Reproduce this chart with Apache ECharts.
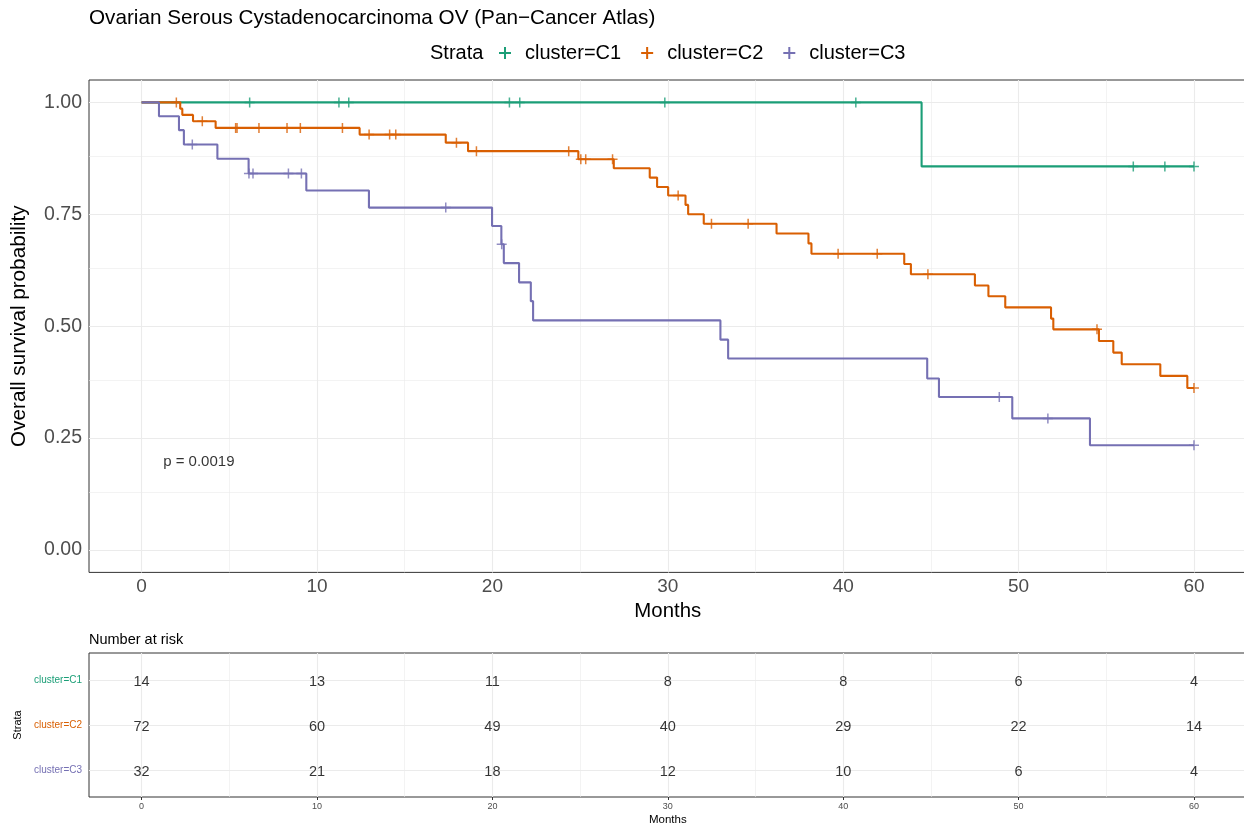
<!DOCTYPE html>
<html>
<head>
<meta charset="utf-8">
<script src="https://cdn.jsdelivr.net/npm/echarts@6/dist/echarts.min.js"></script>
<style>
  html, body { margin: 0; padding: 0; background: #ffffff; }
  #chart { width: 1244px; height: 832px; }
</style>
</head>
<body>
<div id="chart"></div>
<script>
// ---- Kaplan-Meier step data (months, survival probability) ----
const strata = ['cluster=C1', 'cluster=C2', 'cluster=C3'];
const strataColors = ['#1B9E77', '#D95F02', '#7570B3'];

const c1Times = [0, 44.47, 60];
const c1Surv  = [1, 0.857, 0.857];
const c1Censor = [6.16, 11.25, 11.81, 20.97, 21.56, 29.83, 40.72, 56.54, 58.34, 60];

const c2Times = [0, 2.2, 2.32, 2.93, 4.22, 12.43, 17.34, 18.61, 24.9, 26.92, 28.97, 29.39, 30.02,
                 31.01, 31.16, 32.05, 36.2, 38.02, 38.19, 43.48, 43.86, 47.51, 48.28, 49.24,
                 51.85, 51.98, 54.58, 55.4, 55.88, 58.08, 59.62, 60];
const c2Surv  = [1, 0.986, 0.972, 0.958, 0.943, 0.928, 0.910, 0.891, 0.873, 0.853, 0.832, 0.811, 0.792,
                 0.771, 0.750, 0.729, 0.707, 0.685, 0.662, 0.639, 0.616, 0.591, 0.567, 0.542,
                 0.517, 0.493, 0.467, 0.441, 0.415, 0.389, 0.362, 0.362];
const c2Censor = [1.98, 3.46, 5.36, 5.44, 6.69, 8.29, 9.05, 11.45, 12.97, 14.14, 14.49, 17.95, 19.09,
                  24.35, 25.04, 25.32, 26.85, 30.59, 32.49, 34.58, 39.71, 41.94, 44.83, 54.47, 60];

const c3Times = [0, 0.99, 2.13, 2.41, 4.32, 6.1, 9.39, 12.96, 19.98, 20.51, 20.65, 21.52, 22.19, 22.32,
                 33.0, 33.44, 44.79, 45.46, 49.64, 54.07, 60];
const c3Surv  = [1, 0.969, 0.938, 0.906, 0.874, 0.841, 0.803, 0.765, 0.724, 0.683, 0.641, 0.598, 0.556, 0.513,
                 0.470, 0.428, 0.383, 0.342, 0.294, 0.234, 0.234];
const c3Censor = [2.89, 6.12, 6.35, 8.37, 9.11, 17.34, 20.53, 48.9, 51.67, 60];

// ---- Number at risk ----
const riskTimes = [0, 10, 20, 30, 40, 50, 60];
const riskC1 = [14, 13, 11, 8, 8, 6, 4];
const riskC2 = [72, 60, 49, 40, 29, 22, 14];
const riskC3 = [32, 21, 18, 12, 10, 6, 4];

// ---- Axis ticks ----
const xTicks = [0, 10, 20, 30, 40, 50, 60];
const xMinor = [5, 15, 25, 35, 45, 55];
const yTicks = [0, 0.25, 0.5, 0.75, 1];
const yMinor = [0.125, 0.375, 0.625, 0.875];
const pValueText = 'p = 0.0019';
const pValuePos = [1.2, 0.196];

const FONT = "'Liberation Sans', Arial, Helvetica, sans-serif";
const plusCensor = 'path://M4.25,0h1.5v4.25h4.25v1.5h-4.25v4.25h-1.5v-4.25h-4.25v-1.5h4.25z';
const plusLegend = 'path://M5,0h2v5h5v2h-5v5h-2v-5h-5v-2h5z';

const curves = [
  { times: c1Times, surv: c1Surv, censor: c1Censor },
  { times: c2Times, surv: c2Surv, censor: c2Censor },
  { times: c3Times, surv: c3Surv, censor: c3Censor }
];
const riskRows = [riskC1, riskC2, riskC3];

// survival level in force at time t (right-continuous step function)
function levelAt(times, surv, t) {
  let s = surv[0];
  for (let i = 0; i < times.length; i++) {
    if (times[i] <= t) s = surv[i]; else break;
  }
  return s;
}

function gridLineSeries(xi, yi, vMajor, vMinor, hMajor, hMinor) {
  const data = [];
  vMinor.forEach(v => data.push({ xAxis: v, lineStyle: { width: 0.6 } }));
  hMinor.forEach(v => data.push({ yAxis: v, lineStyle: { width: 0.6 } }));
  vMajor.forEach(v => data.push({ xAxis: v, lineStyle: { width: 1.1 } }));
  hMajor.forEach(v => data.push({ yAxis: v, lineStyle: { width: 1.1 } }));
  return {
    type: 'scatter', xAxisIndex: xi, yAxisIndex: yi, data: [], silent: true, z: 1,
    markLine: {
      silent: true, symbol: 'none', z: 1, animation: false,
      label: { show: false },
      lineStyle: { color: '#EBEBEB', type: 'solid' },
      emphasis: { disabled: true },
      data: data
    }
  };
}

const series = [];
series.push(gridLineSeries(0, 0, xTicks, xMinor, yTicks, yMinor));
series.push(gridLineSeries(1, 1, xTicks, xMinor, [1, 2, 3], []));

curves.forEach((c, i) => {
  series.push({
    name: strata[i], type: 'line', step: 'end', xAxisIndex: 0, yAxisIndex: 0,
    symbol: 'none', z: 2 + i,
    lineStyle: { color: strataColors[i], width: 2.1 },
    itemStyle: { color: strataColors[i] },
    data: c.times.map((t, k) => [t, c.surv[k]])
  });
});
curves.forEach((c, i) => {
  series.push({
    name: strata[i] + ' censored', type: 'scatter', xAxisIndex: 0, yAxisIndex: 0,
    symbol: plusCensor, symbolSize: 10, z: 5 + i,
    itemStyle: { color: strataColors[i] },
    data: c.censor.map(t => [t, levelAt(c.times, c.surv, t)])
  });
});

// p-value annotation
series.push({
  type: 'scatter', xAxisIndex: 0, yAxisIndex: 0, symbolSize: 1, z: 9,
  itemStyle: { color: 'transparent' },
  label: { show: true, formatter: pValueText, position: 'right', distance: 0,
           fontSize: 15, color: '#000', fontFamily: FONT },
  data: [pValuePos]
});

// number-at-risk table
riskRows.forEach((row, i) => {
  series.push({
    type: 'scatter', xAxisIndex: 1, yAxisIndex: 1, symbolSize: 1, z: 9,
    itemStyle: { color: 'transparent' },
    label: { show: true, position: 'inside', offset: [0, 2], fontSize: 14.5, color: '#000', fontFamily: FONT,
             formatter: p => String(p.value[2]) },
    data: riskTimes.map((t, k) => [t, 3 - i, row[k]])
  });
});

const rich = {};
strata.forEach((s, i) => { rich['s' + (3 - i)] = { color: strataColors[i], fontSize: 10, fontFamily: FONT }; });

const option = {
  animation: false,
  backgroundColor: '#ffffff',
  textStyle: { fontFamily: FONT },
  title: {
    text: 'Ovarian Serous Cystadenocarcinoma OV (Pan\u2212Cancer Atlas)',
    left: 89, top: 8, padding: 0,
    textStyle: { fontSize: 20.7, fontWeight: 'normal', color: '#000', fontFamily: FONT }
  },
  legend: {
    left: 499, top: 43, padding: 0, itemWidth: 12, itemHeight: 12, itemGap: 20,
    selectedMode: false,
    textStyle: { fontSize: 20, color: '#000', fontFamily: FONT, padding: [0, 0, 0, 9] },
    data: strata.map(n => ({ name: n, icon: plusLegend }))
  },
  graphic: [
    { type: 'text', left: 430, top: 43, style: { text: 'Strata', font: '20px ' + FONT, fill: '#000' } },
    { type: 'text', left: 89, top: 632, style: { text: 'Number at risk', font: '14.5px ' + FONT, fill: '#000' } }
  ],
  grid: [
    { left: 89, top: 80, width: 1157.6, height: 492.4, outerBoundsMode: 'none',
      show: true, borderColor: '#333', borderWidth: 1, backgroundColor: '#fff' },
    { left: 89, top: 653, width: 1157.6, height: 144, outerBoundsMode: 'none',
      show: true, borderColor: '#333', borderWidth: 1, backgroundColor: '#fff' }
  ],
  xAxis: [
    {
      type: 'value', gridIndex: 0, min: -3, max: 63,
      axisLine: { show: false },
      axisTick: { show: true, length: 3, customValues: xTicks, lineStyle: { color: '#333' } },
      axisLabel: { customValues: xTicks, fontSize: 19, color: '#4D4D4D', margin: 5, formatter: v => String(v) },
      splitLine: { show: false },
      name: 'Months', nameLocation: 'middle', nameGap: 25,
      nameTextStyle: { fontSize: 20.4, color: '#000', fontFamily: FONT }
    },
    {
      type: 'value', gridIndex: 1, min: -3, max: 63,
      axisLine: { show: false },
      axisTick: { show: true, length: 3, customValues: xTicks, lineStyle: { color: '#333' } },
      axisLabel: { customValues: xTicks, fontSize: 9, color: '#4D4D4D', margin: 5, formatter: v => String(v) },
      splitLine: { show: false },
      name: 'Months', nameLocation: 'middle', nameGap: 17,
      nameTextStyle: { fontSize: 11.5, color: '#000', fontFamily: FONT }
    }
  ],
  yAxis: [
    {
      type: 'value', gridIndex: 0, min: -0.05, max: 1.05,
      axisLine: { show: false },
      axisTick: { show: true, length: 3, customValues: yTicks, lineStyle: { color: '#333' } },
      axisLabel: { customValues: yTicks, fontSize: 19.5, color: '#4D4D4D', margin: 7, formatter: v => v.toFixed(2) },
      splitLine: { show: false },
      name: 'Overall survival probability', nameLocation: 'middle', nameGap: 59, nameRotate: 90,
      nameTextStyle: { fontSize: 20.7, color: '#000', fontFamily: FONT }
    },
    {
      type: 'value', gridIndex: 1, min: 0.4, max: 3.6,
      axisLine: { show: false },
      axisTick: { show: true, length: 3, customValues: [1, 2, 3], lineStyle: { color: '#333' } },
      axisLabel: { customValues: [1, 2, 3], margin: 7, formatter: v => '{s' + v + '|' + strata[3 - v] + '}', rich: rich },
      splitLine: { show: false },
      name: 'Strata', nameLocation: 'middle', nameGap: 63, nameRotate: 90,
      nameTextStyle: { fontSize: 11, color: '#000', fontFamily: FONT }
    }
  ],
  series: series
};

const chart = echarts.init(document.getElementById('chart'), null, { renderer: 'canvas' });
chart.setOption(option);
</script>
</body>
</html>
